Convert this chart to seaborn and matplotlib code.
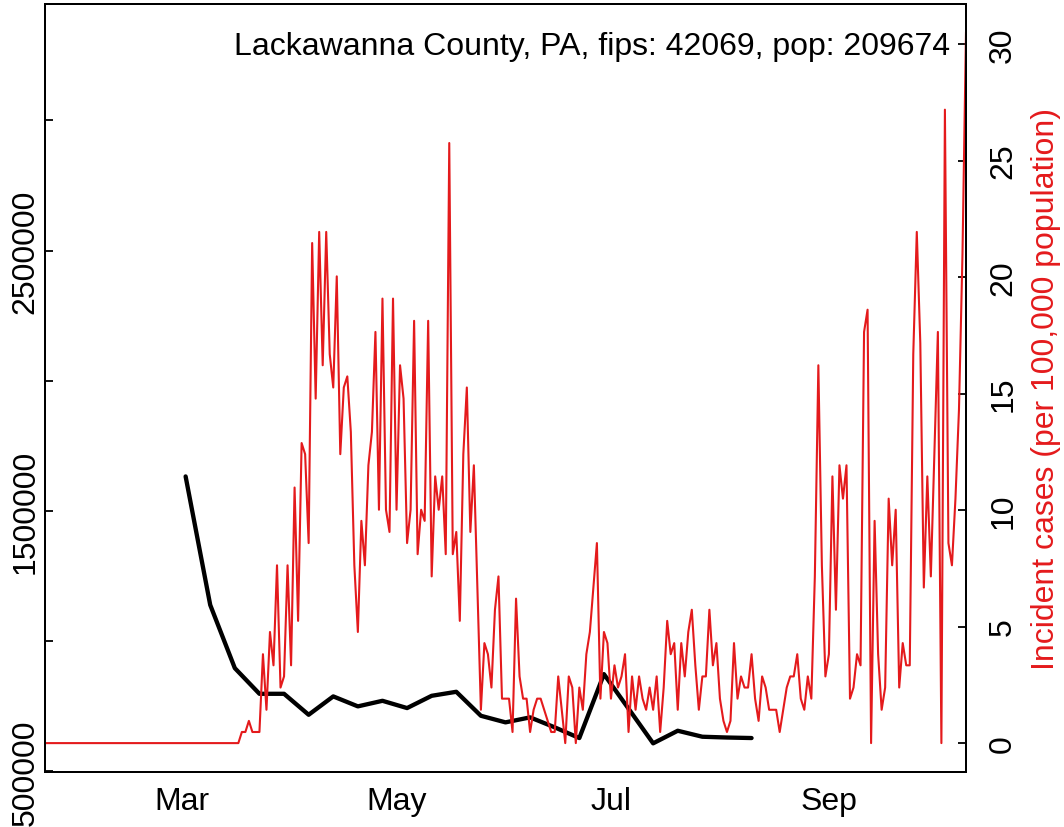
import matplotlib
matplotlib.use("Agg")
import matplotlib.pyplot as plt
import matplotlib.dates as mdates
import matplotlib.ticker as mticker
import seaborn as sns
import pandas as pd

county_label = "Lackawanna County, PA, fips: 42069, pop: 209674"
population = 209674
first_day = "2020-01-22"

# daily new cases, 2020-01-22 .. 2020-10-10
daily_cases = [
    0, 0, 0, 0, 0, 0, 0, 0, 0, 0, 0, 0, 0, 0, 0, 0, 0, 0, 0, 0,
    0, 0, 0, 0, 0, 0, 0, 0, 0, 0, 0, 0, 0, 0, 0, 0, 0, 0, 0, 0,
    0, 0, 0, 0, 0, 0, 0, 0, 0, 0, 0, 0, 0, 0, 0, 0,
    1, 1, 2, 1, 1, 1, 8, 3, 10, 7, 16, 5, 6, 16, 7, 23, 11, 27, 26, 18,
    45, 31, 46, 34, 46, 35, 32, 42, 26, 32, 33, 28, 16, 10, 20, 16, 25, 28, 37, 21,
    40, 21, 19, 40, 21,
    34, 31, 18, 21, 38, 17, 21, 20, 38, 15, 24, 21, 24, 17, 54, 17, 19, 11, 26, 32,
    19, 25, 14, 3,
    9, 8, 5, 12, 15, 4, 4, 4, 1, 13, 6, 4, 4, 1, 3, 4, 4, 3, 2, 1,
    1, 6, 3, 0, 6, 5, 0, 5, 3, 8, 10, 14, 18, 4, 10, 9, 4, 7, 5, 6,
    8, 1, 6, 3, 6, 4, 3, 5, 3, 6, 1, 5, 11, 8, 9, 3, 9, 6, 10, 12,
    7, 3, 6, 6, 12, 7, 9, 4, 2, 1, 2, 9, 4, 6, 5, 5, 8, 4, 2, 6,
    5, 3, 3, 3, 1, 3, 5, 6, 6, 8, 4, 3, 6, 4, 15,
    34, 16, 6, 8, 24, 12, 25, 22, 25, 4, 5, 8, 7, 37, 39, 0, 20, 8, 3, 5,
    22, 16, 21, 5, 9, 7, 7, 35, 46, 36, 14, 24, 15, 26, 37, 0, 57, 18, 16, 22,
    30, 44, 64,
]

# weekly series on the left axis, starting 2020-03-02
weekly_start = "2020-03-02"
weekly_values = [1633000, 1139500, 896800, 798300, 798300, 717800, 788300, 750000,
                 771400, 743500, 790600, 806000, 713900, 688600, 707800, 669500,
                 628400, 873800, 741200, 608100, 656400, 633400, 630400, 628400]

left_ticks = [500000, 1000000, 1500000, 2000000, 2500000, 3000000]
left_labels = ["500000", "", "1500000", "", "2500000", ""]
right_ticks = [0, 5, 10, 15, 20, 25, 30]
month_ticks = ["2020-03-01", "2020-05-01", "2020-07-01", "2020-09-01"]
month_labels = ["Mar", "May", "Jul", "Sep"]

daily = pd.DataFrame({"date": pd.date_range(first_day, periods=len(daily_cases)),
                      "cases": daily_cases})
daily["incidence"] = daily["cases"] / population * 100000
weekly = pd.DataFrame({"date": pd.date_range(weekly_start, periods=len(weekly_values), freq="7D"),
                       "value": weekly_values})

sns.set_theme(style="white")
plt.rcParams["font.family"] = ["Liberation Sans", "DejaVu Sans"]
FS = 23
RED = "#E41A1C"

fig = plt.figure(figsize=(10.64, 8.28), dpi=100)
ax = fig.add_axes([45 / 1064, 1 - 773 / 828, 921 / 1064, 768 / 828])
ax2 = ax.twinx()

sns.lineplot(data=weekly, x="date", y="value", color="black", lw=3.1, ax=ax)
sns.lineplot(data=daily, x="date", y="incidence", color=RED, lw=1.5, ax=ax2)

ax.set_xlim(daily["date"].iloc[0], daily["date"].iloc[-1])
ax.set_ylim(498000, 3447000)
ax2.set_ylim(-1.24, 31.72)

ax.xaxis.set_major_locator(mticker.FixedLocator(mdates.date2num(pd.to_datetime(month_ticks))))
ax.set_xticklabels(month_labels)
ax.yaxis.set_major_locator(mticker.FixedLocator(left_ticks))
ax.set_yticklabels(left_labels)
ax2.yaxis.set_major_locator(mticker.FixedLocator(right_ticks))
ax2.set_yticklabels([str(t) for t in right_ticks])

for a in (ax, ax2):
    a.set_xlabel("")
    a.set_ylabel("")
    for s in a.spines.values():
        s.set_visible(True)
        s.set_color("black")
        s.set_linewidth(1.4)
    a.tick_params(direction="in", length=6, width=1.3, colors="black", labelsize=FS)

ax.tick_params(axis="x", pad=10)
ax.tick_params(axis="y", pad=3)
ax2.tick_params(axis="y", pad=16)
for lab in ax.get_yticklabels() + ax2.get_yticklabels():
    lab.set_rotation(90)
    lab.set_va("center")

ax2.set_ylabel("Incident cases (per 100,000 population)", color=RED, fontsize=FS, labelpad=9)
ax.text(0.9826, 0.945, county_label, transform=ax.transAxes, ha="right", va="center",
        fontsize=FS, color="black")

fig.savefig("out.png", dpi=100)
